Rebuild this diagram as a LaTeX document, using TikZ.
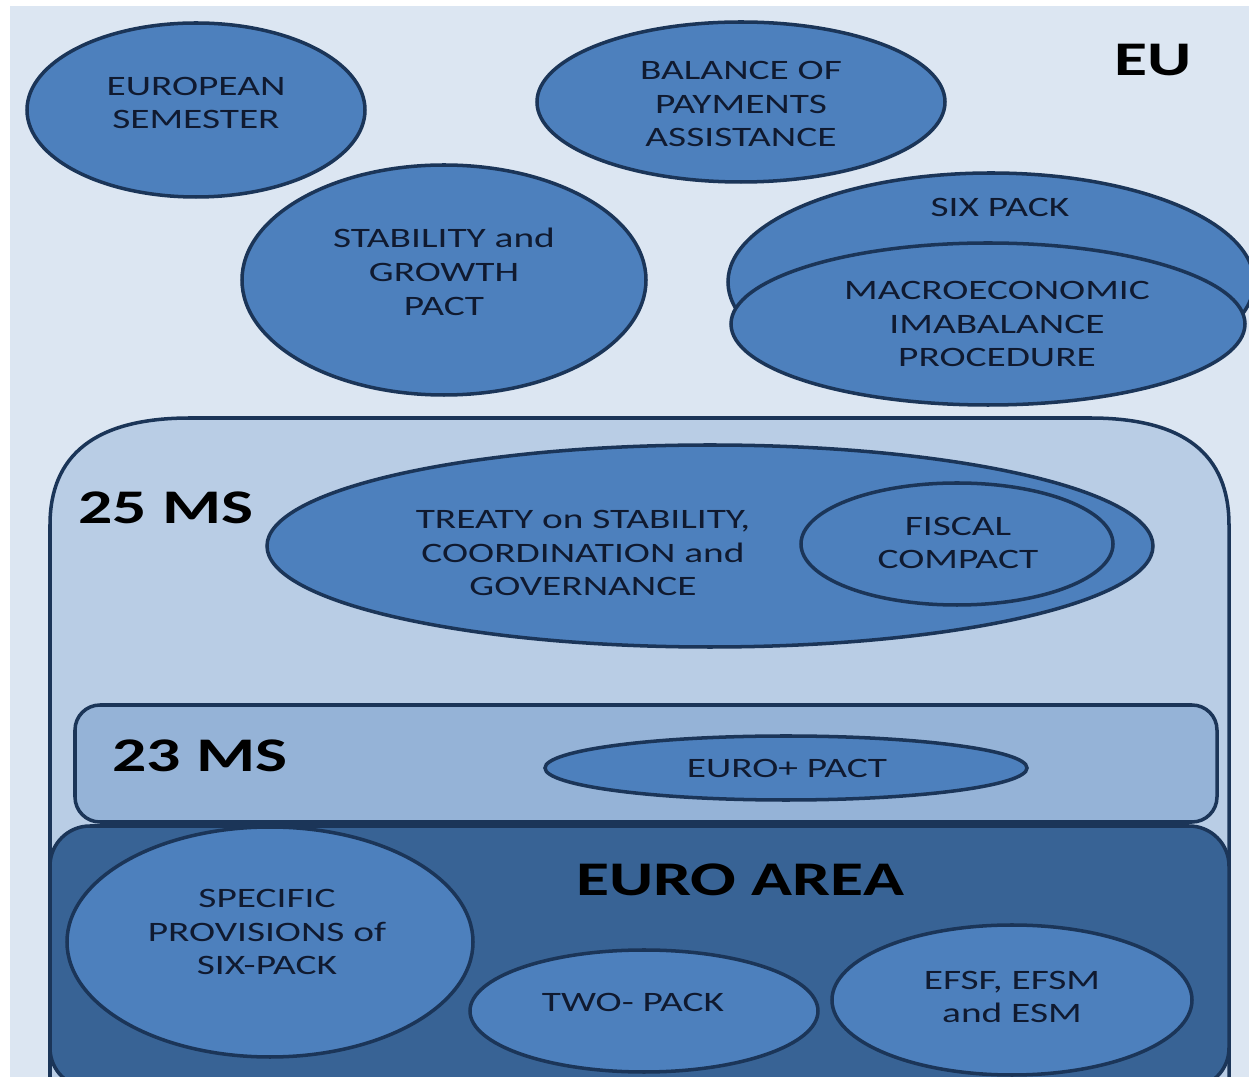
\documentclass[tikz,border=0pt]{standalone}
\usepackage{fontspec}
\setmainfont{Carlito}[FakeStretch=1.4]
\usetikzlibrary{positioning}

% fills and outlines
\definecolor{eubg}{HTML}{DCE6F2}
\definecolor{msbg}{HTML}{B9CDE5}
\definecolor{mssub}{HTML}{95B3D7}
\definecolor{eabg}{HTML}{386395}
\definecolor{bubblefill}{HTML}{4D80BD}
\definecolor{edge}{HTML}{1B3558}
\definecolor{ink}{HTML}{101A30}

\begin{document}
\begin{tikzpicture}[x=0.02cm, y=-0.02cm,
    bubble/.style={draw=edge, line width=2pt, fill=bubblefill},
    zone/.style={draw=edge, line width=2pt},
    blocktext/.style={align=center, text=ink, inner sep=0pt,
        font=\fontsize{16}{19.3}\selectfont},
    bigtext/.style={text=black, inner sep=0pt,
        font=\fontsize{27.5}{30}\selectfont\bfseries}]

    \useasboundingbox (0,0) rectangle (1249,1077);
    \clip (0,0) rectangle (1249,1077);
    \fill[white] (0,0) rectangle (1249,1077);
    \fill[eubg] (10,6) rectangle (1249,1077);

    % EU level
    \node[bigtext] (eu) at (1153,60) {EU};

    \draw[bubble] (196,110) ellipse (169 and 87);
    \node[blocktext] (semester) at (196,103) {EUROPEAN\\SEMESTER};

    \draw[bubble] (741,102) ellipse (204 and 80);
    \node[blocktext] (balance) at (741,104) {BALANCE OF\\PAYMENTS\\ASSISTANCE};

    \draw[bubble] (444,280) ellipse (202 and 115);
    \node[blocktext] (sgp) at (444,272) {STABILITY and\\GROWTH\\PACT};

    % six pack with the imbalance procedure in front
    \draw[bubble] (991,282) ellipse (263 and 109);
    \node[blocktext] (sixpack) at (1000,207) {SIX PACK};
    \draw[bubble] (988,324) ellipse (257 and 81);
    \node[blocktext] (mip) at (997,324) {MACROECONOMIC\\IMABALANCE\\PROCEDURE};

    % 25 member states
    \draw[zone, fill=msbg] (50,1110) -- (50,525)
        .. controls (50,455) and (95,418) .. (190,418) -- (1090,418)
        .. controls (1185,418) and (1229,455) .. (1229,525) -- (1229,1110) -- cycle;
    \node[bigtext, anchor=west] (ms25) at (78,508) {25 MS};

    \draw[bubble] (710,546) ellipse (443 and 101);
    \node[blocktext] (treaty) at (583,553) {TREATY on STABILITY,\\COORDINATION and\\GOVERNANCE};
    \draw[bubble] (957,544) ellipse (156 and 61);
    \node[blocktext] (fiscal) at (958,543) {FISCAL\\COMPACT};

    % 23 member states
    \draw[zone, fill=mssub, rounded corners=0.5cm] (75,705) rectangle (1217,822);
    \node[bigtext, anchor=west] (ms23) at (112,756) {23 MS};

    \draw[bubble] (786,768) ellipse (241 and 32);
    \node[blocktext] (europlus) at (787,768) {EURO+ PACT};

    % euro area
    \draw[zone, fill=eabg, rounded corners=0.8cm] (50,826) rectangle (1229,1088);
    \node[bigtext] (euroarea) at (740,880) {EURO AREA};

    \draw[bubble] (270,942) ellipse (203 and 115);
    \node[blocktext] (provisions) at (267,932) {SPECIFIC\\PROVISIONS of\\SIX-PACK};

    \draw[bubble] (644,1011) ellipse (174 and 61);
    \node[blocktext] (twopack) at (633,1002) {TWO- PACK};

    \draw[bubble] (1012,1000) ellipse (180 and 75);
    \node[blocktext] (efsf) at (1012,997) {EFSF, EFSM\\and ESM};
\end{tikzpicture}
\end{document}
